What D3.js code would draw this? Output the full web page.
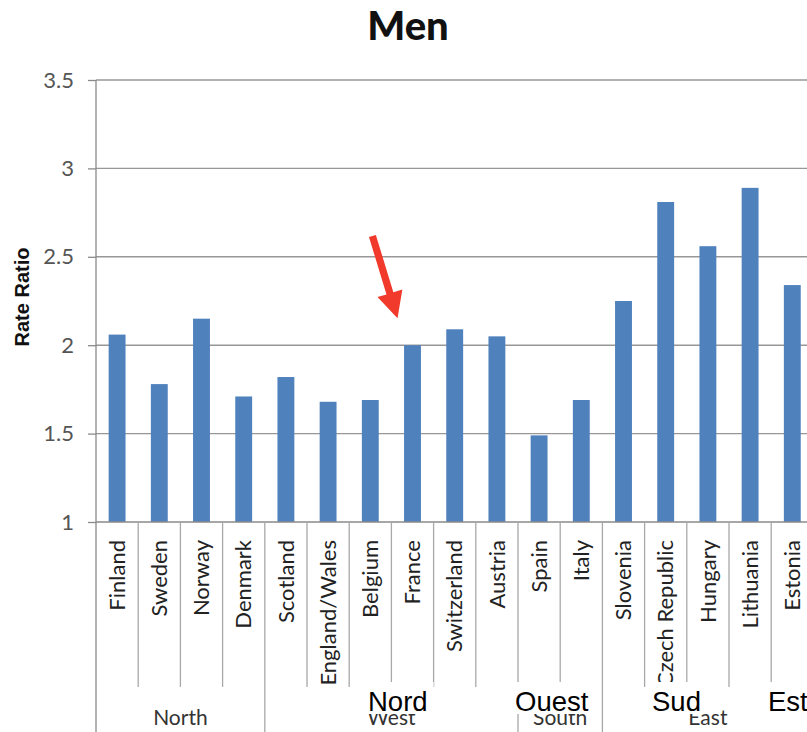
<!DOCTYPE html>
<html>
<head>
<meta charset="utf-8">
<script src="https://cdn.jsdelivr.net/npm/d3@7"></script>
<style>
  html, body { margin: 0; padding: 0; background: #fff; }
  svg { display: block; }
</style>
</head>
<body>
<svg id="chart" width="807" height="732"></svg>
<script>
// Countries in display order, grouped by region
const countries = ["Finland", "Sweden", "Norway", "Denmark", "Scotland", "England/Wales",
  "Belgium", "France", "Switzerland", "Austria", "Spain", "Italy", "Slovenia",
  "Czech Republic", "Hungary", "Lithuania", "Estonia"];
const rateRatio = [2.06, 1.78, 2.15, 1.71, 1.82, 1.68, 1.69, 2.00, 2.09, 2.05,
  1.49, 1.69, 2.25, 2.81, 2.56, 2.89, 2.34];
const regions = ["North", "West", "South", "East"];
const regionSizes = [4, 6, 2, 5];
const yTicks = [1, 1.5, 2, 2.5, 3, 3.5];
const frenchRegions = ["Nord", "Ouest", "Sud", "Est"];

const W = 807, H = 732;
const left = 96, step = 42.2;
const svg = d3.select("#chart");
svg.append("rect").attr("width", W).attr("height", H).attr("fill", "#fff");

const x = d3.scaleBand()
  .domain(countries)
  .range([left, left + step * countries.length])
  .paddingInner(0.6)
  .paddingOuter(0.3);
const y = d3.scaleLinear().domain([1, 3.5]).range([522, 80]);

const labelFont = "Lato, 'Open Sans', sans-serif";

// Title
svg.append("text")
  .attr("x", 408).attr("y", 40)
  .attr("text-anchor", "middle")
  .attr("font-family", labelFont)
  .attr("font-weight", 900)
  .attr("font-size", 40)
  .attr("fill", "#111")
  .text("Men");

// Horizontal gridlines
svg.append("g").selectAll("line")
  .data(yTicks.filter(d => d > 1))
  .join("line")
  .attr("x1", left).attr("x2", W)
  .attr("y1", d => y(d)).attr("y2", d => y(d))
  .attr("stroke", "#979797").attr("stroke-width", 1.4);

// Y axis
const yAxis = svg.append("g")
  .attr("transform", `translate(${left},0)`)
  .call(d3.axisLeft(y).tickValues(yTicks).tickSize(8).tickPadding(14).tickFormat(d3.format("")));
yAxis.select(".domain").remove();
yAxis.selectAll(".tick line").attr("stroke", "#8a8a8a").attr("stroke-width", 1.3);
yAxis.selectAll(".tick text")
  .attr("font-family", labelFont)
  .attr("font-size", 22)
  .attr("fill", "#555");

// Y axis title
svg.append("text")
  .attr("transform", "translate(29,297) rotate(-90)")
  .attr("text-anchor", "middle")
  .attr("font-family", "'Liberation Sans', Arial, sans-serif")
  .attr("font-weight", "bold")
  .attr("font-size", 20)
  .attr("fill", "#111")
  .text("Rate Ratio");

// Bars
svg.append("g").selectAll("rect")
  .data(countries)
  .join("rect")
  .attr("x", d => x(d))
  .attr("width", x.bandwidth())
  .attr("y", (d, i) => y(rateRatio[i]))
  .attr("height", (d, i) => y(1) - y(rateRatio[i]))
  .attr("fill", "#4f81bd");

// Axis lines: vertical value axis and horizontal category axis
svg.append("line").attr("x1", left).attr("x2", left).attr("y1", y(3.5)).attr("y2", H)
  .attr("stroke", "#8a8a8a").attr("stroke-width", 1.3);
svg.append("line").attr("x1", left).attr("x2", W).attr("y1", y(1)).attr("y2", y(1))
  .attr("stroke", "#8a8a8a").attr("stroke-width", 1.3);

// Category separators: short between countries, full-height between regions
const boundaries = d3.cumsum(regionSizes);
const seps = d3.range(1, countries.length);
svg.append("g").selectAll("line")
  .data(seps)
  .join("line")
  .attr("x1", i => left + i * x.step())
  .attr("x2", i => left + i * x.step())
  .attr("y1", y(1))
  .attr("y2", i => boundaries.includes(i) ? H : 687)
  .attr("stroke", "#a8a8a8").attr("stroke-width", 1.3);

// Country labels
svg.append("g").selectAll("text")
  .data(countries)
  .join("text")
  .attr("transform", d => `translate(${x(d) + x.bandwidth() / 2},540) rotate(-90)`)
  .attr("dy", "0.35em")
  .attr("text-anchor", "end")
  .attr("font-family", labelFont)
  .attr("font-size", 22)
  .attr("fill", "#222")
  .text(d => d);

// Region labels centered under their countries
const starts = [0, ...boundaries.slice(0, -1)];
svg.append("g").selectAll("text")
  .data(regions)
  .join("text")
  .attr("x", (d, i) => left + (starts[i] + regionSizes[i] / 2) * x.step())
  .attr("y", 725)
  .attr("text-anchor", "middle")
  .attr("font-family", labelFont)
  .attr("font-size", 21)
  .attr("fill", "#333")
  .text(d => d);

// French region names laid over the region row, each on a white patch
const frenchX = [368, 515, 652, 768];
const fr = svg.append("g");
frenchRegions.forEach((name, i) => {
  const g = fr.append("g");
  const bg = g.append("rect").attr("fill", "#fff");
  const t = g.append("text")
    .attr("x", frenchX[i]).attr("y", 711)
    .attr("font-family", "'Liberation Sans', Arial, sans-serif")
    .attr("font-size", 27.5)
    .attr("fill", "#000")
    .text(name);
  const b = t.node().getBBox();
  bg.attr("x", b.x - 6).attr("y", 682).attr("width", b.width + 12).attr("height", 32);
});

// Red arrow pointing at France
const fx = x("France") + x.bandwidth() / 2;
const tip = [fx - 15, y(2.0) - 27];
const len = 86, headLen = 26, headHalf = 13, shaftHalf = 3.6;
const u = [25 / Math.hypot(25, 82), 82 / Math.hypot(25, 82)];
const n = [u[1], -u[0]];
const at = (along, side) => [tip[0] - along * u[0] + side * n[0], tip[1] - along * u[1] + side * n[1]];
const pts = [
  at(0, 0), at(headLen, headHalf), at(headLen, shaftHalf), at(len, shaftHalf),
  at(len, -shaftHalf), at(headLen, -shaftHalf), at(headLen, -headHalf)
];
svg.append("path")
  .attr("d", d3.line()(pts) + "Z")
  .attr("fill", "#f23a2c");
</script>
</body>
</html>
